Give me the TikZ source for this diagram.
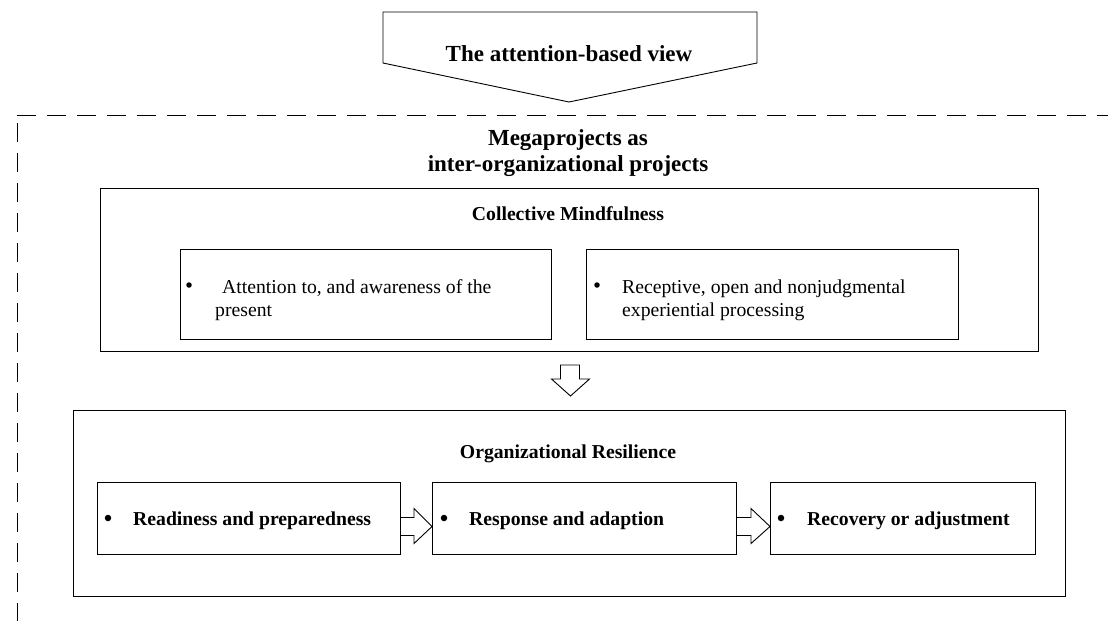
\documentclass[tikz,border=0pt]{standalone}
\usepackage{fontspec}
\setmainfont{Liberation Serif}
\usetikzlibrary{calc}
\begin{document}
\begin{tikzpicture}[x=1pt,y=-1pt,
  boxb/.style={draw, line width=1pt, anchor=north west, inner sep=0pt},
  txt/.style={anchor=base west, inner sep=0pt, font=\fontsize{19.7}{23}\selectfont},
  btxt/.style={anchor=base west, inner sep=0pt, font=\fontsize{19.7}{23}\selectfont\bfseries},
  ttl/.style={anchor=base, inner sep=0pt, font=\fontsize{19.7}{23}\selectfont\bfseries},
  bigttl/.style={anchor=base, inner sep=0pt, font=\fontsize{23}{27}\selectfont\bfseries},
  dot/.style={circle, fill=black, inner sep=0pt, minimum size=5.5pt},
  bdot/.style={circle, fill=black, inner sep=0pt, minimum size=6.5pt},
  blockarrow/.style={draw, line width=0.9pt, fill=white, line join=miter},
  dashframe/.style={draw, line width=1pt, dash pattern=on 19pt off 11pt}]
\useasboundingbox (0,0) rectangle (1115,621);

% top pentagon arrow
\draw[blockarrow] (383,12) -- (757,12) -- (757,63) -- (569,102) -- (383,63) -- cycle;
\node[bigttl] (abv) at (569,61) {The attention-based view};

% dashed frame
\coordinate (dcorner) at (17,115);
\coordinate (dright) at (1108,115);
\coordinate (dvtop) at (17,123);
\coordinate (dbottom) at (17,621);
\draw[dashframe] (dcorner) -- (dright);
\draw[dashframe] (dvtop) -- (dbottom);

\node[bigttl] (mega1) at (568,145) {Megaprojects as};
\node[bigttl] (mega2) at (568,171) {inter-organizational projects};

% collective mindfulness
\node[boxb, minimum width=938pt, minimum height=163pt] (cm) at (100,188) {};
\node[ttl] (cmt) at (568,220) {Collective Mindfulness};
\node[boxb, minimum width=371pt, minimum height=90pt] (cm1) at (180,249) {};
\node[boxb, minimum width=372pt, minimum height=90pt] (cm2) at (586,249) {};
\node[dot] (b1) at (189,285) {};
\node[txt] (t1a) at (222,293) {Attention to, and awareness of the};
\node[txt] (t1b) at (215,316) {present};
\node[dot] (b2) at (597,285) {};
\node[txt] (t2a) at (622,293) {Receptive, open and nonjudgmental};
\node[txt] (t2b) at (622,316) {experiential processing};

% organizational resilience
\node[boxb, minimum width=992pt, minimum height=186pt] (or) at (73,410) {};
\node[ttl] (ort) at (568,458) {Organizational Resilience};
\node[boxb, minimum width=303pt, minimum height=72pt] (ra) at (97,482) {};
\node[boxb, minimum width=304pt, minimum height=72pt] (rb) at (432,482) {};
\node[boxb, minimum width=265pt, minimum height=72pt] (rc) at (770,482) {};
\node[bdot] (ba) at (108,518) {};
\node[btxt] (ta) at (133,525) {Readiness and preparedness};
\node[bdot] (bb) at (444,518) {};
\node[btxt] (tb) at (469,525) {Response and adaption};
\node[bdot] (bc) at (781,518) {};
\node[btxt] (tc) at (807,525) {Recovery or adjustment};

% down block arrow
\draw[blockarrow] ($(cm.south)+(-9,13)$) -- ++(19,0) -- ++(0,14) -- ++(10,0)
  -- ($(or.north)+(1,-14)$) -- ($(cm.south)+(-18,27)$) -- ++(9,0) -- cycle;

% horizontal block arrows
\draw[blockarrow] ($(ra.east)+(0,-1)$) -- ++(13,0) -- ++(0,-9) -- ($(rb.west)+(0,8)$)
  -- ($(ra.east)+(13,25)$) -- ++(0,-8) -- ($(ra.east)+(0,17)$);
\draw[blockarrow] ($(rb.east)+(0,-1)$) -- ++(14,0) -- ++(0,-9) -- ($(rc.west)+(0,8)$)
  -- ($(rb.east)+(14,25)$) -- ++(0,-8) -- ($(rb.east)+(0,17)$);
\end{tikzpicture}
\end{document}
